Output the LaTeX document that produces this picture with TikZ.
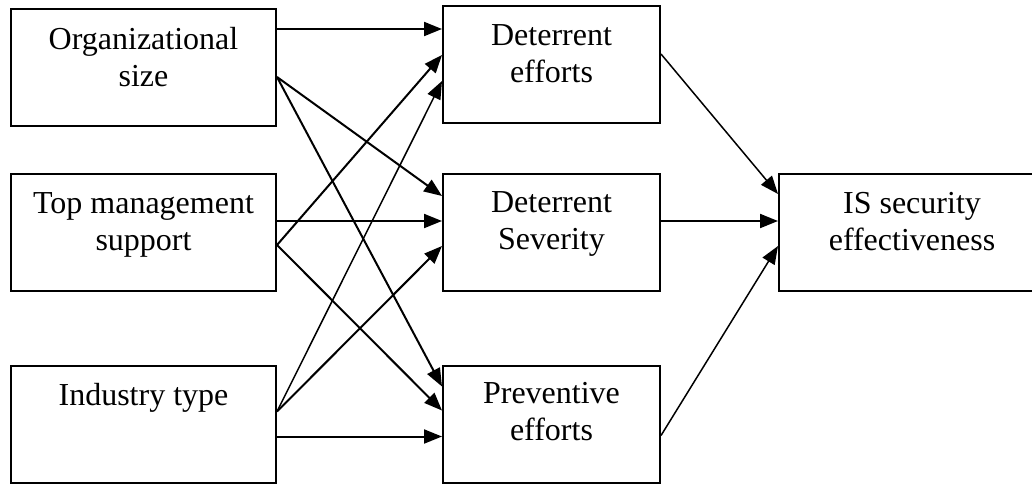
\documentclass[tikz,border=0pt]{standalone}
\usepackage{fontspec}
\setmainfont{Liberation Serif}
\usetikzlibrary{arrows.meta,calc}
\tikzset{
  box/.style={draw, line width=2pt, minimum height=117pt, inner sep=0pt},
  lbox/.style={box, minimum width=265pt},
  mbox/.style={box, minimum width=217pt},
  txt/.style={align=center, anchor=base, inner sep=0pt, font=\fontsize{32}{37}\selectfont},
  arr/.style={line width=2pt, -{Triangle[length=18pt,width=14pt]}},
  thinarr/.style={line width=1.5pt, -{Triangle[length=18pt,width=14pt]}}
}
\begin{document}
\begin{tikzpicture}[x=1pt,y=-1pt]
\path[use as bounding box] (0,0) rectangle (1032,483);
\clip (0,0) rectangle (1032,483);
% boxes
\node[lbox] (org) at (143.5,67.5) {};
\node[lbox] (top) at (143.5,232.5) {};
\node[lbox] (ind) at (143.5,424) {};
\node[mbox] (de) at (551.5,64.5) {};
\node[mbox] (ds) at (551.5,232.5) {};
\node[mbox] (pe) at (551.5,424) {};
\node[box, minimum width=266pt] (is) at (912,232.5) {};
% texts (base anchor = last line's baseline)
\node[txt] (orgT) at ([yshift=-78pt]org.north) {Organizational\\size};
\node[txt] (topT) at ([yshift=-77pt]top.north) {Top management\\support};
\node[txt] (indT) at ([yshift=-41pt]ind.north) {Industry type};
\node[txt] (deT) at ([yshift=-77pt]de.north) {Deterrent\\efforts};
\node[txt] (dsT) at ([yshift=-76pt]ds.north) {Deterrent\\Severity};
\node[txt] (peT) at ([yshift=-76pt]pe.north) {Preventive\\efforts};
\node[txt] (isT) at ([yshift=-77pt]is.north) {IS security\\effectiveness};
% connection points
\coordinate (o1) at ($(org.north east)+(0,21)$);
\coordinate (o2) at ($(org.north east)+(0,69)$);
\coordinate (t1) at ($(top.north east)+(0,48)$);
\coordinate (t2) at ($(top.north east)+(0,72)$);
\coordinate (i1) at ($(ind.north east)+(0,47)$);
\coordinate (i2) at ($(ind.north east)+(0,72)$);
\coordinate (de1) at ($(de.north west)+(0,24)$);
\coordinate (de2) at ($(de.north west)+(0,50)$);
\coordinate (de3) at ($(de.north west)+(0,76)$);
\coordinate (ds1) at ($(ds.north west)+(0,23)$);
\coordinate (ds2) at ($(ds.north west)+(0,48)$);
\coordinate (ds3) at ($(ds.north west)+(0,73)$);
\coordinate (pe1) at ($(pe.north west)+(0,22)$);
\coordinate (pe2) at ($(pe.north west)+(0,46)$);
\coordinate (pe3) at ($(pe.north west)+(0,72)$);
\coordinate (deo) at ($(de.north east)+(0,49)$);
\coordinate (dso) at ($(ds.north east)+(0,48)$);
\coordinate (peo) at ($(pe.north east)+(0,71)$);
\coordinate (is1) at ($(is.north west)+(0,21)$);
\coordinate (is2) at ($(is.north west)+(0,48)$);
\coordinate (is3) at ($(is.north west)+(0,73)$);
% arrows left to middle
\draw[arr] (o1) -- (de1);
\draw[arr] (o2) -- (ds1);
\draw[arr] (o2) -- (pe1);
\draw[arr] (t1) -- (ds2);
\draw[arr] (t2) -- (de2);
\draw[arr] (t2) -- (pe2);
\draw[thinarr] (i1) -- (de3);
\draw[arr] (i1) -- (ds3);
\draw[arr] (i2) -- (pe3);
% arrows middle to right
\draw[thinarr] (deo) -- (is1);
\draw[arr] (dso) -- (is2);
\draw[thinarr] (peo) -- (is3);
\end{tikzpicture}
\end{document}
